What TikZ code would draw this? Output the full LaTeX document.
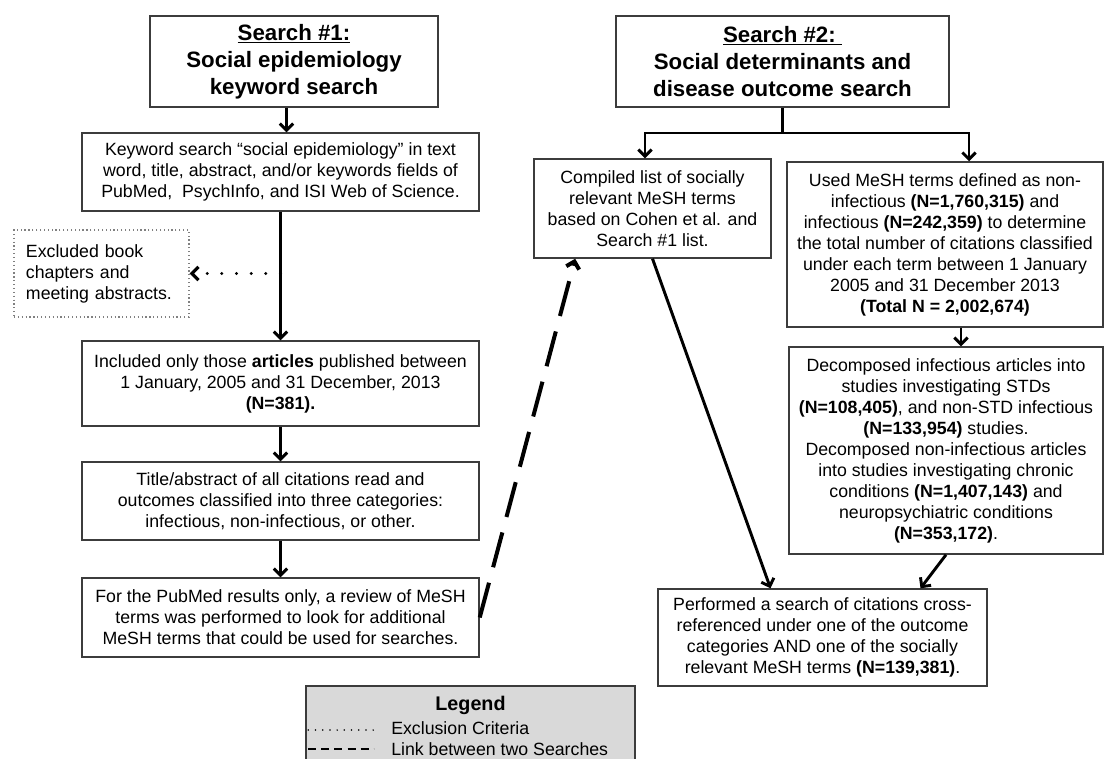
\documentclass[tikz,border=0pt]{standalone}
\usepackage{fontspec}
\setmainfont{Liberation Sans}
\usepackage{xcolor}
\usetikzlibrary{arrows.meta, positioning}
\definecolor{boxline}{HTML}{3C3C3C}
\definecolor{legendfill}{HTML}{D9D9D9}
\newcommand{\diagbody}{\fontsize{13.3}{15.75}\selectfont}
\newcommand{\diaghead}{\fontsize{16.7}{20.25}\selectfont\bfseries}

\begin{document}
\begin{tikzpicture}[x=0.75pt, y=-0.75pt, >={Straight Barb[length=5pt,width=10pt]},
    box/.style={draw=boxline, line width=1.1pt, align=center, inner sep=2pt, font=\diagbody},
    headbox/.style={box, font=\diaghead},
    exclbox/.style={draw=gray, line width=0.9pt, dotted, align=left, inner xsep=9pt, font=\diagbody},
    arr/.style={->, line width=2.2pt},
    conn/.style={line width=2.2pt},
    exclarr/.style={->, line width=2.4pt, line cap=round, dash pattern=on 0pt off 11pt},
    linkarr/.style={->, line width=3pt, dash pattern=on 27pt off 12pt}]

    \useasboundingbox (0,0) rectangle (1105,759);

    % --- Search #1 column ---
    \node[headbox, minimum width=216pt, minimum height=68.25pt] (head1) at (294,61.5)
        {\underline{Search \#1:}\\ Social epidemiology\\ keyword search};
    \node[box, minimum width=297.75pt, minimum height=58.5pt] (key) at (280.5,172)
        {Keyword search “social epidemiology” in text\\ word, title, abstract, and/or keywords fields of\\ PubMed,~ PsychInfo, and ISI Web of Science.};
    \node[exclbox, text width=113.25pt, minimum height=65.25pt] (excl) at (101.5,273.5)
        {Excluded book\\ chapters and\\ meeting abstracts.};
    \node[box, minimum width=297.75pt, minimum height=63.75pt] (incl) at (280.5,383.5)
        {Included only those \textbf{articles} published between\\ 1 January, 2005 and 31 December, 2013\\ \textbf{(N=381).}};
    \node[box, minimum width=297.75pt, minimum height=58.5pt] (title) at (280.5,501)
        {Title/abstract of all citations read and\\ outcomes classified into three categories:\\ infectious, non-infectious, or other.};
    \node[box, minimum width=297.75pt, minimum height=59.25pt] (pubmed) at (280.5,617.5)
        {For the PubMed results only, a review of MeSH\\ terms was performed to look for additional\\ MeSH terms that could be used for searches.};

    % --- Search #2 column ---
    \node[headbox, minimum width=249.75pt, minimum height=68.25pt] (head2) at (782.5,61.5)
        {\underline{Search \#2:~}\\ Social determinants and\\ disease outcome search};
    \node[box, minimum width=177.75pt, minimum height=74.25pt] (comp) at (652.5,208.5)
        {Compiled list of socially\\ relevant MeSH terms\\ based on Cohen et al. and\\ Search \#1 list.};
    \node[box, minimum width=237pt, minimum height=123.75pt] (used) at (945,244.5)
        {Used MeSH terms defined as non-\\ infectious \textbf{(N=1,760,315)} and\\ infectious \textbf{(N=242,359)} to determine\\ the total number of citations classified\\ under each term between 1 January\\ 2005 and 31 December 2013\\ \textbf{(Total N = 2,002,674)}};
    \node[box, minimum width=235.5pt, minimum height=155.25pt] (decomp) at (946,450.5)
        {Decomposed infectious articles into\\ studies investigating STDs\\ \textbf{(N=108,405)}, and non-STD infectious\\ \textbf{(N=133,954)} studies.\\ Decomposed non-infectious articles\\ into studies investigating chronic\\ conditions \textbf{(N=1,407,143)} and\\ neuropsychiatric conditions\\ \textbf{(N=353,172)}.};
    \node[box, minimum width=246.75pt, minimum height=72.75pt] (perf) at (822.5,637.5)
        {Performed a search of citations cross-\\ referenced under one of the outcome\\ categories AND one of the socially\\ relevant MeSH terms \textbf{(N=139,381)}.};

    % --- Arrows, Search #1 ---
    \draw[arr] ([xshift=4.5pt]key.north |- head1.south) -- ([xshift=4.5pt]key.north);
    \draw[arr] (key.south) -- (incl.north);
    \draw[exclarr] (key.south |- excl.east) -- (excl.east);
    \draw[arr] (incl.south) -- (title.north);
    \draw[arr] (title.south) -- (pubmed.north);

    % --- Arrows, Search #2 ---
    \coordinate (splitL) at (645,133);
    \coordinate (splitR) at (969,133);
    \draw[conn] (head2.south) -- (head2.south |- splitL);
    \draw[conn, line cap=rect] (splitL) -- (splitR);
    \draw[arr] (splitL) -- (splitL |- comp.north);
    \draw[arr] (splitR) -- (splitR |- used.north);
    \draw[arr] ([xshift=12pt]used.south) -- ([xshift=12pt]used.south |- decomp.north);
    \draw[arr] (comp.south) -- ([xshift=-39pt]perf.north);
    \draw[arr] (decomp.south) -- ([xshift=73.5pt]perf.north);

    % --- Link between the two searches ---
    \draw[linkarr] (pubmed.east) -- ([xshift=-58pt]comp.south);

    % --- Legend ---
    \draw[draw=boxline, line width=1.1pt, fill=legendfill] (306,686) rectangle (635,775);
    \node[font=\fontsize{14.8}{16}\selectfont\bfseries] (legtitle) at (470.5,705) {Legend};
    \node[font=\diagbody, anchor=west, inner sep=0pt] (legexcl) at (391,728) {Exclusion Criteria};
    \node[font=\diagbody, anchor=west, inner sep=0pt] (leglink) at (391,749) {Link between two Searches};
    \draw[line width=1.3pt, line cap=round, dash pattern=on 0pt off 5.4pt]
        ([xshift=-62pt,yshift=-1.5pt]legexcl.west) -- ([xshift=-12pt,yshift=-1.5pt]legexcl.west);
    \draw[line width=1.5pt, dash pattern=on 6pt off 3.8pt]
        ([xshift=-62pt]leglink.west) -- ([xshift=-13pt]leglink.west);

\end{tikzpicture}
\end{document}
